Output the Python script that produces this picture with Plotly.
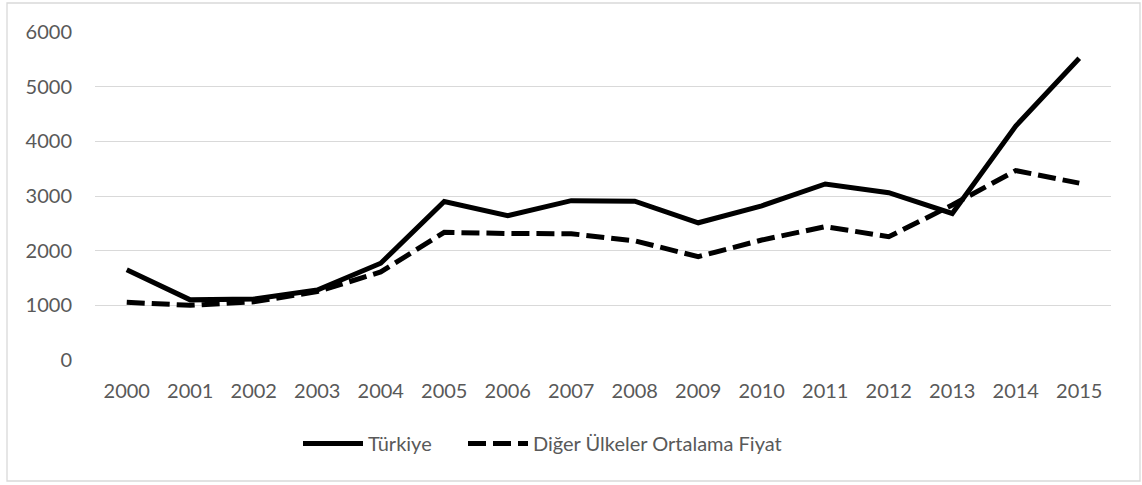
import plotly.graph_objects as go

years = ["2000", "2001", "2002", "2003", "2004", "2005", "2006", "2007",
         "2008", "2009", "2010", "2011", "2012", "2013", "2014", "2015"]
turkiye = [1650, 1100, 1115, 1280, 1770, 2900, 2640, 2915,
           2905, 2510, 2820, 3220, 3060, 2680, 4280, 5520]
diger = [1055, 1000, 1065, 1250, 1610, 2335, 2315, 2310,
         2180, 1890, 2195, 2440, 2255, 2835, 3465, 3235]
yticks = [0, 1000, 2000, 3000, 4000, 5000, 6000]

FONT = "Lato"
GRAY = "#595959"

fig = go.Figure()
fig.add_trace(go.Scatter(
    x=years, y=turkiye, name="Türkiye", mode="lines", legend="legend",
    line=dict(color="black", width=5)))
fig.add_trace(go.Scatter(
    x=years, y=diger, name="Diğer Ülkeler Ortalama Fiyat", mode="lines",
    legend="legend2",
    line=dict(color="black", width=5, dash="18px,7px")))

L, R, T, B = 95, 31, 32, 125
W, H = 1142, 485
pw, ph = W - L - R, H - T - B

leg_common = dict(orientation="h", xanchor="left", y=-0.195, yanchor="top",
                  font=dict(family=FONT, size=20, color=GRAY),
                  itemwidth=60, bgcolor="rgba(0,0,0,0)")

fig.update_layout(
    width=W, height=H,
    margin=dict(l=L, r=R, t=T, b=B),
    paper_bgcolor="white", plot_bgcolor="white",
    font=dict(family=FONT, size=20, color=GRAY),
    showlegend=True,
    legend=dict(x=(298 - L) / pw, **leg_common),
    legend2=dict(x=(463 - L) / pw, **leg_common),
    xaxis=dict(type="category", range=[-0.5, 15.5], showgrid=False,
               showline=False, zeroline=False, ticks="",
               ticklabelstandoff=17, tickfont=dict(size=20, color=GRAY)),
    yaxis=dict(range=[0, 6000], tickvals=yticks, showgrid=True,
               gridcolor="#d9d9d9", gridwidth=1.3, zeroline=False,
               showline=False, ticks="", ticklabelstandoff=22,
               tickfont=dict(size=20, color=GRAY)),
    shapes=[dict(type="rect", xref="paper", yref="paper",
                 x0=(7 - L) / pw, x1=(1140 - L) / pw,
                 y0=(H - B - 481) / ph, y1=(H - B - 3) / ph,
                 line=dict(color="#d9d9d9", width=1.3), fillcolor="rgba(0,0,0,0)",
                 layer="below")],
)

fig.write_html("out.html", config={"displayModeBar": False},
               post_script="document.body.style.margin='0';document.body.style.overflow='hidden';")
